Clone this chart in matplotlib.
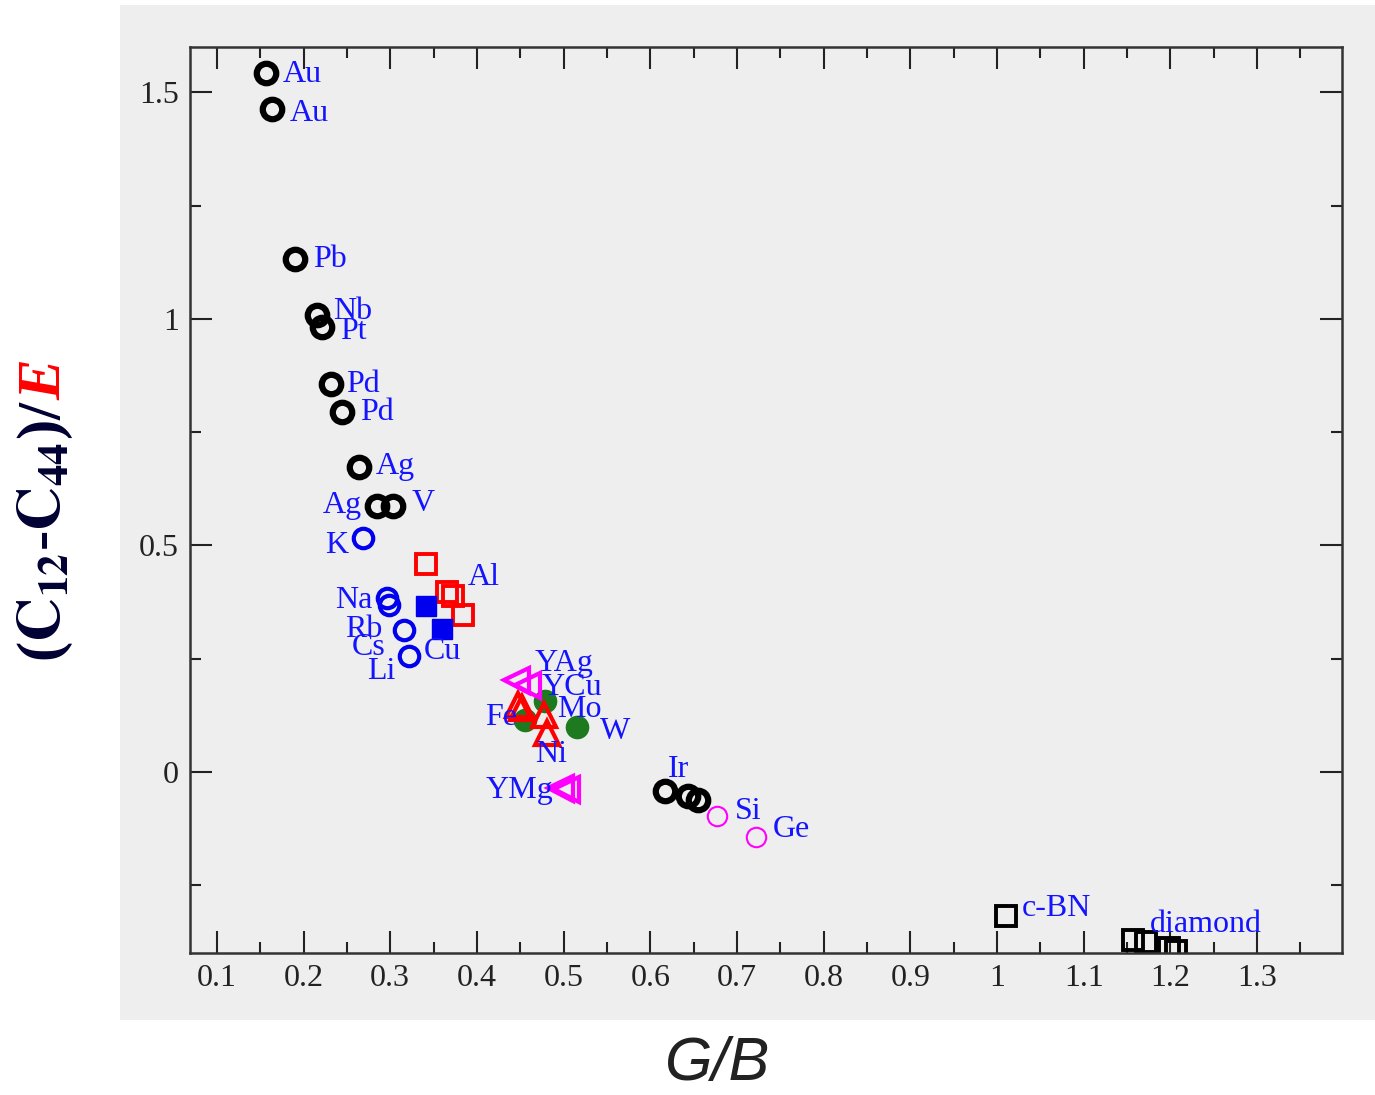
import matplotlib
matplotlib.use("Agg")
import matplotlib.pyplot as plt
from matplotlib.patches import Rectangle

plt.rcParams['font.family'] = ['Liberation Serif', 'DejaVu Serif']
plt.rcParams['mathtext.fontset'] = 'stix'

# black open circles (fcc / bcc metals)
blk_x = [0.1565, 0.1635, 0.190, 0.2154, 0.2208, 0.2315, 0.244, 0.2638, 0.2843, 0.3034, 0.617, 0.644, 0.655]
blk_y = [1.542, 1.463, 1.132, 1.008, 0.982, 0.856, 0.794, 0.673, 0.587, 0.587, -0.043, -0.054, -0.062]

# blue open circles (alkali)
alk_x = [0.2685, 0.296, 0.298, 0.3157, 0.322]
alk_y = [0.516, 0.384, 0.369, 0.313, 0.256]

# blue filled squares (Cu)
cu_x = [0.341, 0.360]
cu_y = [0.366, 0.315]

# red open squares (Al)
al_x = [0.341, 0.366, 0.372, 0.384]
al_y = [0.459, 0.397, 0.387, 0.346]

# magenta open left triangles (YAg, YCu, YMg)
ym_x = [0.445, 0.458, 0.496, 0.503]
ym_y = [0.203, 0.192, -0.035, -0.037]

# green filled circles (Mo, W, Fe)
bcc_x = [0.478, 0.455, 0.515]
bcc_y = [0.156, 0.115, 0.100]

# red open up triangles (Fe, Ni)
tri_x = [0.447, 0.452, 0.477, 0.481]
tri_y = [0.148, 0.140, 0.126, 0.085]

# magenta thin circles (Si, Ge)
sg_x = [0.677, 0.722]
sg_y = [-0.097, -0.143]

# black open squares (c-BN, diamond)
dia_x = [1.010, 1.157, 1.172, 1.198, 1.207]
dia_y = [-0.319, -0.372, -0.376, -0.390, -0.395]

# labels: (text, x, y, ha)
labels = [("Au", 0.176, 1.539, "left"), ("Au", 0.184, 1.454, "left"),
          ("Pb", 0.211, 1.132, "left"), ("Nb", 0.234, 1.017, "left"),
          ("Pt", 0.242, 0.973, "left"), ("Pd", 0.249, 0.856, "left"),
          ("Pd", 0.265, 0.794, "left"), ("Ag", 0.2835, 0.673, "left"),
          ("Ag", 0.267, 0.587, "right"), ("V", 0.325, 0.593, "left"),
          ("K", 0.251, 0.499, "right"), ("Na", 0.280, 0.379, "right"),
          ("Rb", 0.2915, 0.315, "right"), ("Cs", 0.295, 0.274, "right"),
          ("Li", 0.3065, 0.221, "right"), ("Cu", 0.339, 0.265, "left"),
          ("Al", 0.390, 0.428, "left"), ("YAg", 0.466, 0.240, "left"),
          ("YCu", 0.475, 0.185, "left"), ("Fe", 0.409, 0.119, "left"),
          ("Mo", 0.493, 0.137, "left"), ("W", 0.542, 0.088, "left"),
          ("Ni", 0.467, 0.0375, "left"), ("YMg", 0.4104, -0.042, "left"),
          ("Ir", 0.620, 0.004, "left"), ("Si", 0.698, -0.088, "left"),
          ("Ge", 0.7415, -0.128, "left"), ("c-BN", 1.029, -0.302, "left"),
          ("diamond", 1.1765, -0.3375, "left")]

fig = plt.figure(figsize=(13.75, 10.95), dpi=100)
fig.patches.append(Rectangle((120/1375, 1-1020/1095), 1255/1375, 1015/1095,
                             transform=fig.transFigure, facecolor='#eeeeee',
                             edgecolor='none', zorder=-1))
ax = fig.add_axes([190/1375, 1-953/1095, 1152/1375, 906/1095])
ax.set_facecolor('#eeeeee')

blue = '#1414ff'
ax.plot(blk_x, blk_y, 'o', ms=14, mfc='none', mec='black', mew=4.5)
ax.plot(alk_x, alk_y, 'o', ms=14, mfc='none', mec='#0000ee', mew=3)
ax.plot(al_x, al_y, 's', ms=15, mfc='none', mec='red', mew=2.8)
ax.plot(cu_x, cu_y, 's', ms=15, mfc='#0000ee', mec='#0000ee', mew=1)
ax.plot(bcc_x, bcc_y, 'o', ms=16, mfc='#1e7a1e', mec='#1e7a1e', mew=1)
ax.plot(tri_x, tri_y, '^', ms=17, mfc='none', mec='red', mew=3)
ax.plot(ym_x, ym_y, '<', ms=18, mfc='none', mec='#ff00ff', mew=3)
ax.plot(sg_x, sg_y, 'o', ms=14, mfc='none', mec='#ff00ff', mew=1.5)
ax.plot(dia_x, dia_y, 's', ms=14, mfc='none', mec='black', mew=2.8)

for txt, x, y, ha in labels:
    ax.text(x, y, txt, color=blue, fontsize=23, ha=ha, va='center')

ax.set_xlim(0.069, 1.398)
ax.set_ylim(-0.4, 1.6)
ax.set_xticks([0.1, 0.2, 0.3, 0.4, 0.5, 0.6, 0.7, 0.8, 0.9, 1.0, 1.1, 1.2, 1.3])
ax.set_xticklabels(['0.1', '0.2', '0.3', '0.4', '0.5', '0.6', '0.7', '0.8', '0.9', '1', '1.1', '1.2', '1.3'])
ax.set_xticks([0.15 + 0.1*i for i in range(13)], minor=True)
ax.set_yticks([0, 0.5, 1, 1.5])
ax.set_yticklabels(['0', '0.5', '1', '1.5'])
ax.set_yticks([-0.25, 0.25, 0.75, 1.25], minor=True)
ax.tick_params(which='both', direction='in', top=True, right=True,
               labelsize=23, colors='#222222', width=1.5, pad=8)
ax.tick_params(which='major', length=16)
ax.tick_params(which='minor', length=8)
for s in ax.spines.values():
    s.set_linewidth(1.8)
    s.set_color('#333333')

# y label: dark navy part plus red italic E
t1 = fig.text(45/1375, 1-662/1095, r'($\mathbf{C_{12}}$-$\mathbf{C_{44}}$)/',
              rotation=90, fontsize=44, fontweight='bold', color='#000033',
              ha='center', va='bottom')
fig.canvas.draw()
bb = t1.get_window_extent().transformed(fig.transFigure.inverted())
fig.text(45/1375, bb.y1, 'E', rotation=90, fontsize=44, fontweight='bold',
         fontstyle='italic', color='red', ha='center', va='bottom')

fig.text(718/1375, 1-1080/1095, 'G/B', fontsize=44, fontstyle='italic',
         family='Liberation Sans', color='#222222', ha='center', va='baseline')

plt.savefig('out.png', dpi=100)
